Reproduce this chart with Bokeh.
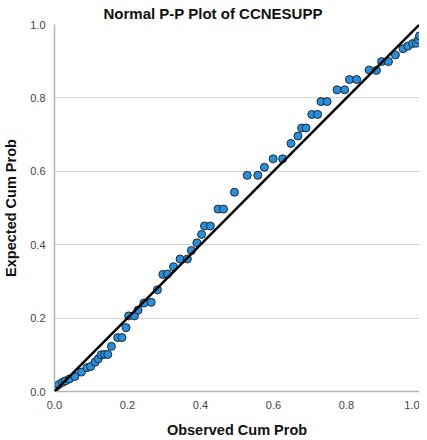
from bokeh.plotting import figure
from bokeh.models import Range1d, Slope, FixedTicker
from bokeh.embed import file_html
from bokeh.resources import INLINE

title = "Normal P-P Plot of CCNESUPP"
x_label = "Observed Cum Prob"
y_label = "Expected Cum Prob"
ticks = [0.0, 0.2, 0.4, 0.6, 0.8, 1.0]

observed = [0.003, 0.012, 0.022, 0.030, 0.041, 0.056, 0.074, 0.089, 0.099, 0.111,
            0.120, 0.128, 0.137, 0.146, 0.156, 0.173, 0.185, 0.196, 0.203, 0.219,
            0.229, 0.245, 0.265, 0.282, 0.297, 0.310, 0.326, 0.344, 0.364, 0.375,
            0.390, 0.403, 0.411, 0.427, 0.448, 0.463, 0.493, 0.528, 0.557, 0.575,
            0.599, 0.625, 0.648, 0.667, 0.677, 0.689, 0.705, 0.721, 0.730, 0.747,
            0.774, 0.795, 0.808, 0.828, 0.862, 0.882, 0.896, 0.915, 0.934, 0.955,
            0.968, 0.981, 0.991, 0.997, 1.000]
expected = [0.012, 0.019, 0.025, 0.029, 0.034, 0.041, 0.053, 0.065, 0.068, 0.080,
            0.089, 0.100, 0.101, 0.101, 0.123, 0.147, 0.147, 0.174, 0.206, 0.206,
            0.222, 0.241, 0.243, 0.277, 0.319, 0.320, 0.340, 0.361, 0.361, 0.384,
            0.405, 0.428, 0.451, 0.451, 0.497, 0.497, 0.543, 0.589, 0.589, 0.611,
            0.634, 0.634, 0.676, 0.696, 0.718, 0.718, 0.755, 0.755, 0.790, 0.790,
            0.822, 0.822, 0.850, 0.850, 0.876, 0.875, 0.899, 0.899, 0.917, 0.934,
            0.941, 0.948, 0.949, 0.959, 0.969]

FONT = "Liberation Sans"

p = figure(frame_width=365, frame_height=367, output_backend="svg", toolbar_location=None,
           x_range=Range1d(0, 1), y_range=Range1d(0, 1),
           min_border_left=49, min_border_right=0, min_border_top=20,
           min_border_bottom=42, title=title)

p.title.text_font = FONT
p.title.text_font_size = "15px"
p.title.text_font_style = "bold"
p.title.text_color = "#111111"
p.title.align = "left"
p.title.offset = 49
p.title.standoff = 5

p.background_fill_color = "white"
p.border_fill_color = "white"
p.outline_line_color = None

p.xgrid.grid_line_color = None
p.ygrid.grid_line_color = "#d4d4d4"
p.ygrid.grid_line_width = 1
p.ygrid.ticker = FixedTicker(ticks=ticks)

for ax in (p.xaxis[0], p.yaxis[0]):
    ax.ticker = FixedTicker(ticks=ticks)
    ax.major_label_overrides = {t: f"{t:.1f}" for t in ticks}
    ax.axis_line_color = "#b4b4b4"
    ax.axis_line_width = 1.5
    ax.major_tick_line_color = None
    ax.minor_tick_line_color = None
    ax.major_label_text_font = FONT
    ax.major_label_text_font_size = "11px"
    ax.major_label_text_color = "#444444"
    ax.axis_label_text_font = FONT
    ax.axis_label_text_font_size = "14.5px"
    ax.axis_label_text_font_style = "bold"
    ax.axis_label_text_color = "#111111"

p.xaxis.axis_label = x_label
p.yaxis.axis_label = y_label
p.xaxis.major_label_standoff = 3
p.yaxis.major_label_standoff = 3
p.xaxis.axis_label_standoff = 10
p.yaxis.axis_label_standoff = 8

p.add_layout(Slope(gradient=1, y_intercept=0, line_color="black", line_width=2.5))

p.scatter(observed, expected, size=8, fill_color="#2690dc",
          line_color="#1a2a3a", line_width=1)

open("out.html", "w").write(file_html(p, INLINE))
